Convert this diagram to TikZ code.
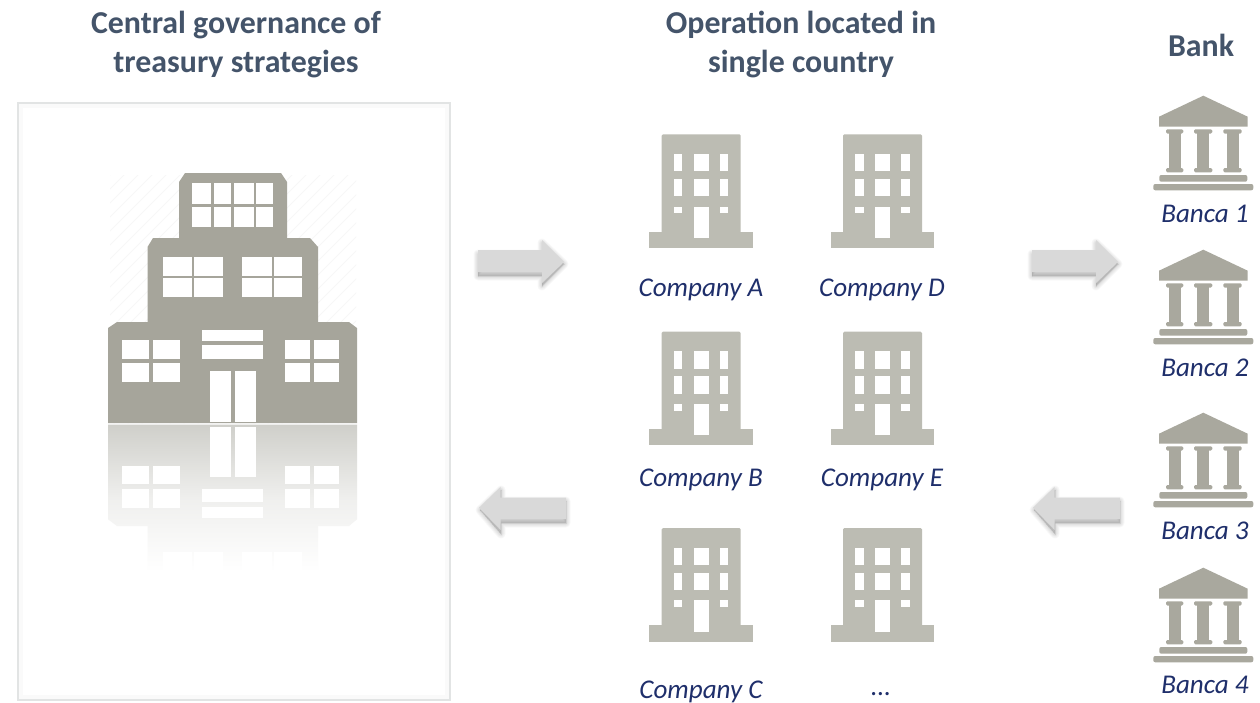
\documentclass[tikz,border=0pt]{standalone}
\usepackage{fontspec}
\setmainfont{Carlito}
\definecolor{bigb}{HTML}{A6A59B}
\definecolor{smallb}{HTML}{BCBCB3}
\definecolor{bankc}{HTML}{A9A89E}
\definecolor{titlec}{HTML}{44546A}
\definecolor{labelc}{HTML}{1F2F6B}
\definecolor{arrowc}{HTML}{D9D9D9}
\definecolor{reflc}{HTML}{CFCFCA}
\definecolor{framec}{HTML}{E2E4E4}
\tikzset{
  titlelabel/.style={font=\fontsize{23.9}{29.5}\selectfont\bfseries,text=titlec,align=center,inner sep=0pt},
  itemlabel/.style={font=\fontsize{20.3}{24}\selectfont\itshape,text=labelc,inner sep=0pt},
  pane/.style={fill=white,draw=none},
}
\newcommand{\rectlist}[1]{\foreach \xa/\ya/\xb/\yb in {#1}{\fill[pane] (\xa,\ya) rectangle (\xb,\yb);}}
\newcommand{\office}[2]{%
  \begin{scope}[shift={(#1,#2)}]
    \fill[smallb] (0,97.4) rectangle (103.4,113.7);
    \fill[smallb,rounded corners=1pt] (12.4,105) -- (12.4,0) -- (91.4,0) -- (91.4,105) -- cycle;
    \rectlist{24.7/19.7/33/37, 44.7/19.7/59.4/37, 70.7/19.7/79/37,
              24.7/44.7/33/62, 44.7/44.7/59.4/62, 70.7/44.7/79/62,
              24.7/72.4/33/79, 70.7/72.4/79/79, 44.7/72.4/59.4/103.7}
  \end{scope}}
\newcommand{\bankicon}[1]{%
  \begin{scope}[yshift=#1*-0.75pt]
    \fill[bankc] (1203.3,95.7) -- (1247.7,116.7) -- (1247.7,126.7) -- (1159,126.7) -- (1159,116.7) -- cycle;
    \foreach \a/\b/\c/\d in {1166/1183.3/1168.7/1180.7, 1194/1212.3/1197.2/1209.2, 1223.3/1241.7/1226.5/1238.5}{
      \fill[bankc,rounded corners=1pt] (\a,129.3) rectangle (\b,133.5);
      \fill[bankc] (\c,133) rectangle (\d,168.5);
      \fill[bankc,rounded corners=1pt] (\a,168) rectangle (\b,172.3);
    }
    \fill[bankc,rounded corners=1.5pt] (1159.3,175) rectangle (1247.3,181.7);
    \fill[bankc,rounded corners=1.5pt] (1153.3,184) rectangle (1253.3,190.3);
  \end{scope}}
\newcommand{\softarrow}[1]{%
  \foreach \s in {9,7.5,...,0}{
    \fill[black,opacity=0.022,line join=round,draw=black,line width=\s*0.75pt,draw opacity=0.022] #1;
  }
}
\begin{document}
\begin{tikzpicture}[x=0.75pt,y=-0.75pt]
\useasboundingbox (0,0) rectangle (1260,703);
\fill[white] (0,0) rectangle (1260,703);

% frame
\draw[framec,opacity=0.15,line width=3pt] (21,106) rectangle (447,697);
\draw[framec,line width=1pt] (18,103) rectangle (450,700);

% faint hatch behind the large building
\begin{scope}
  \clip (110,175) rectangle (356,423);
  \foreach \k in {0,14,...,500}{\draw[black!3,line width=0.7pt] (110+\k-248,423) -- (110+\k,175);}
\end{scope}

% large building
\fill[bigb] (108,423) -- (108,328) -- (117,322) -- (147.5,322) -- (147.5,247) -- (153,238) -- (179,238)
  -- (179,182) -- (185,173) -- (281,173) -- (287,182) -- (287,238) -- (310,238) -- (318,247) -- (318,322)
  -- (349,322) -- (357,328) -- (357,423) -- cycle;
\rectlist{191.7/182.7/211.3/204.3, 213.7/182.7/231.3/204.3, 234.3/182.7/253.7/204.3, 256.3/182.7/273.3/204.3,
          191.7/207/211.3/226.7, 213.7/207/231.3/226.7, 234.3/207/253.7/226.7, 256.3/207/273.3/226.7,
          163/257.3/191.7/276, 194.3/257.3/223/276, 163/278/191.7/296.7, 194.3/278/223/296.7,
          242.3/257.3/271.7/276, 274/257.3/302.3/276, 242.3/278/271.7/296.7, 274/278/302.3/296.7,
          122/340/149/359, 153.3/340/180/359, 122/363/149/382.3, 153.3/363/180/382.3,
          285/340/310.3/359, 314.3/340/339.3/359, 285/363/310.3/382.3, 314.3/363/339.3/382.3,
          202/329.7/263.3/341, 202/345.3/263.3/358.7,
          210/370.7/231/421.7, 234.7/370.7/255.7/421.7}

% reflection
\shade[top color=reflc,bottom color=white,middle color=reflc!33!white]
  (108,424.5) -- (357,424.5) -- (357,519.3) -- (349,526) -- (318,526) -- (318,572) -- (147.5,572)
  -- (147.5,526) -- (117,526) -- (108,519.3) -- cycle;
\rectlist{210/426.7/231/476.7, 234.7/426.7/255.7/476.7,
          122/465.7/149/484.3, 153.3/465.7/180/484.3, 122/489/149/508, 153.3/489/180/508,
          285/465.7/310.3/484.3, 314.3/465.7/339.3/484.3, 285/489/310.3/508, 314.3/489/339.3/508,
          202/489/263.3/502, 202/507/263.3/518,
          163/551.7/191.7/572, 194.3/551.7/223/572, 242.3/551.7/271.7/572, 274/551.7/302.3/572}

% small buildings
\office{649.3}{134.3}
\office{830.6}{134.3}
\office{649.3}{331.7}
\office{830.6}{331.7}
\office{649.3}{528}
\office{830.6}{528}

% banks
\bankicon{0}
\bankicon{154}
\bankicon{317}
\bankicon{472}

% arrows
\begin{scope}
  \softarrow{(478,254) -- (542,254) -- (542,243) -- (564,264) -- (542,286) -- (542,276) -- (478,276) -- cycle}
  \fill[arrowc] (478,250) -- (542,250) -- (542,240) -- (564,262) -- (542,283) -- (542,272) -- (478,272) -- cycle;
\end{scope}
\begin{scope}[xshift=554*0.75pt]
  \softarrow{(478,254) -- (542,254) -- (542,243) -- (564,264) -- (542,286) -- (542,276) -- (478,276) -- cycle}
  \fill[arrowc] (478,250) -- (542,250) -- (542,240) -- (564,262) -- (542,283) -- (542,272) -- (478,272) -- cycle;
\end{scope}
\begin{scope}
  \softarrow{(480,510) -- (501,490) -- (501,501) -- (566,501) -- (566,523) -- (501,523) -- (501,534) -- cycle}
  \fill[arrowc] (479,507.7) -- (500.7,486.7) -- (500.7,497.7) -- (566,497.7) -- (566,519) -- (500.7,519) -- (500.7,530) -- cycle;
\end{scope}
\begin{scope}[xshift=554*0.75pt]
  \softarrow{(480,510) -- (501,490) -- (501,501) -- (566,501) -- (566,523) -- (501,523) -- (501,534) -- cycle}
  \fill[arrowc] (479,507.7) -- (500.7,486.7) -- (500.7,497.7) -- (566,497.7) -- (566,519) -- (500.7,519) -- (500.7,530) -- cycle;
\end{scope}

% titles
\node[titlelabel] (t1) at (236,44.7) {Central governance of\\treasury strategies};
\node[titlelabel] (t2) at (801,44.7) {Operation located in\\single country};
\node[titlelabel] (t3) at (1201,45) {Bank};

% labels
\node[itemlabel] (ca) at (701,290) {Company A};
\node[itemlabel] (cd) at (882,290) {Company D};
\node[itemlabel] (cb) at (701,480) {Company B};
\node[itemlabel] (ce) at (882,480) {Company E};
\node[itemlabel] (cc) at (701,691.5) {Company C};
\node[itemlabel] (cx) at (881,694) {...};
\node[itemlabel] (b1) at (1205,214) {Banca 1};
\node[itemlabel] (b2) at (1205,368) {Banca 2};
\node[itemlabel] (b3) at (1205,531) {Banca 3};
\node[itemlabel] (b4) at (1205,685) {Banca 4};
\end{tikzpicture}
\end{document}
